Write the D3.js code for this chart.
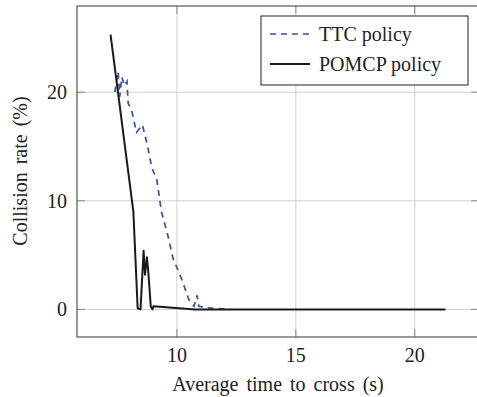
<!DOCTYPE html>
<html><head><meta charset="utf-8">
<script src="https://cdn.jsdelivr.net/npm/d3@7"></script>
<style>body{margin:0;background:#fff}svg{display:block}</style>
</head><body><svg id="c" width="477" height="397">
<text x="278" y="391" text-anchor="middle" font-family="Liberation Serif" font-size="20" fill="#222" word-spacing="3">Average time to cross (s)</text>
<text transform="translate(27,171) rotate(-90)" text-anchor="middle" font-family="Liberation Serif" font-size="20" fill="#222" word-spacing="3">Collision rate (%)</text>
</svg>
<script>
const ttcX = [7.39,7.53,7.6,7.68,7.8,7.9,7.95,8.1,8.3,8.55,8.75,8.95,9.15,9.35,9.62,9.85,10.05,10.25,10.5,10.72,10.85,10.92,11.2,11.6,12.25];
const ttcY = [20.0,21.9,19.6,21.4,20.6,21.0,19.0,18.3,16.3,17.0,15.2,13.0,12.0,9.0,6.8,4.6,3.6,2.5,0.9,0.3,1.3,0.3,0.15,0.1,0];
const pomX = [7.21,8.17,8.35,8.47,8.6,8.66,8.74,8.8,8.9,8.97,9.02,10.76,21.29];
const pomY = [25.3,9.0,0.1,0.0,5.4,3.2,4.8,3.4,0.3,0.0,0.3,0.0,0.0];
const xTicks = [10,15,20];
const yTicks = [0,10,20];
const seriesNames = ["TTC policy","POMCP policy"];

const svg = d3.select("#c");
const L=77,R=479,T=6,B=337;
const x = d3.scaleLinear().domain([5.8,22.7]).range([L,R]);
const y = d3.scaleLinear().domain([-2.54,27.94]).range([B,T]);

const g = svg.insert("g",":first-child");
g.selectAll(".gx").data(xTicks).enter().append("line")
 .attr("x1",d=>x(d)).attr("x2",d=>x(d)).attr("y1",T).attr("y2",B)
 .attr("stroke","#d0d0d0").attr("stroke-width",1);
g.selectAll(".gy").data(yTicks).enter().append("line")
 .attr("y1",d=>y(d)).attr("y2",d=>y(d)).attr("x1",L).attr("x2",R)
 .attr("stroke","#d0d0d0").attr("stroke-width",1);
const tl=8;
xTicks.forEach(t=>{
  g.append("line").attr("x1",x(t)).attr("x2",x(t)).attr("y1",B).attr("y2",B-tl).attr("stroke","#888");
  g.append("line").attr("x1",x(t)).attr("x2",x(t)).attr("y1",T).attr("y2",T+tl).attr("stroke","#888");
});
yTicks.forEach(t=>{
  g.append("line").attr("y1",y(t)).attr("y2",y(t)).attr("x1",L).attr("x2",L+tl).attr("stroke","#888");
  g.append("line").attr("y1",y(t)).attr("y2",y(t)).attr("x1",R).attr("x2",R-tl).attr("stroke","#888");
});

const line = d3.line().x(d=>x(d[0])).y(d=>y(d[1]));
const ttc = ttcX.map((v,i)=>[v,ttcY[i]]);
const pom = pomX.map((v,i)=>[v,pomY[i]]);
g.append("path").attr("d",line(ttc)).attr("fill","none").attr("stroke","#3553a8")
 .attr("stroke-width",1.7).attr("stroke-dasharray","6,5");
g.append("path").attr("d",line(pom)).attr("fill","none").attr("stroke","#1a1a1a")
 .attr("stroke-width",2).attr("stroke-linejoin","round");

g.append("rect").attr("x",L).attr("y",T).attr("width",R-L).attr("height",B-T)
 .attr("fill","none").attr("stroke","#555").attr("stroke-width",1.2);

g.selectAll(".xl").data(xTicks).enter().append("text")
 .attr("x",d=>x(d)).attr("y",362).attr("text-anchor","middle")
 .attr("font-family","Liberation Serif").attr("font-size",20).attr("fill","#222").text(d=>d);
g.selectAll(".yl").data(yTicks).enter().append("text")
 .attr("x",67).attr("y",d=>y(d)+7).attr("text-anchor","end")
 .attr("font-family","Liberation Serif").attr("font-size",20).attr("fill","#222").text(d=>d);

const lg = svg.append("g");
lg.append("rect").attr("x",261).attr("y",16).attr("width",207).attr("height",69)
 .attr("fill","#fff").attr("stroke","#222").attr("stroke-width",1);
const rows=[{n:seriesNames[0],c:"#3553a8",dash:"6,5",w:1.7,yy:34},{n:seriesNames[1],c:"#1a1a1a",dash:null,w:2,yy:64}];
rows.forEach(r=>{
  lg.append("line").attr("x1",270).attr("x2",310).attr("y1",r.yy).attr("y2",r.yy)
    .attr("stroke",r.c).attr("stroke-width",r.w).attr("stroke-dasharray",r.dash);
  lg.append("text").attr("x",319).attr("y",r.yy+7)
    .attr("font-family","Liberation Serif").attr("font-size",20).attr("fill","#222").text(r.n);
});
</script></body></html>
